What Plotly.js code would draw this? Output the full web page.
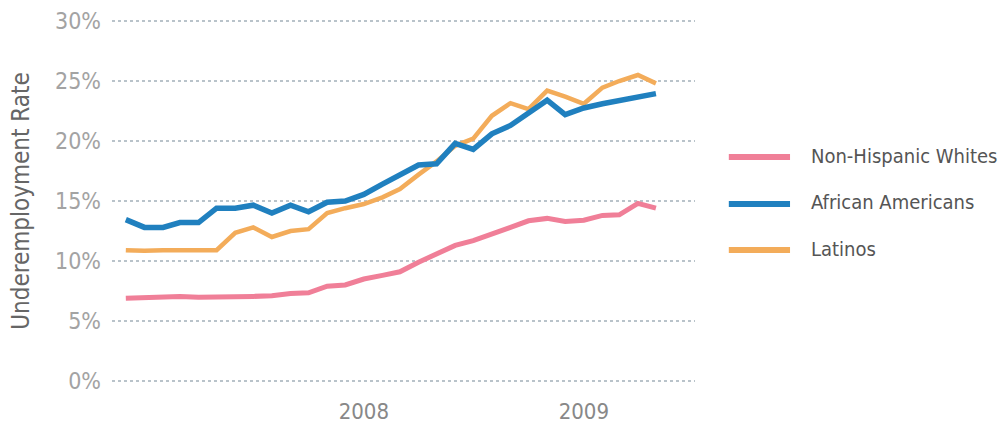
<!DOCTYPE html>
<html>
<head>
<meta charset="utf-8">
<script src="https://cdn.plot.ly/plotly-3.0.1.min.js"></script>
<style>
  html, body { margin: 0; padding: 0; background: #fff; }
  #chart { width: 998px; height: 432px; }
</style>
</head>
<body>
<div id="chart"></div>
<script>
// Monthly observations, Dec 2006 - May 2009
const months = [
  '2006-12-01','2007-01-01','2007-02-01','2007-03-01','2007-04-01','2007-05-01',
  '2007-06-01','2007-07-01','2007-08-01','2007-09-01','2007-10-01','2007-11-01',
  '2007-12-01','2008-01-01','2008-02-01','2008-03-01','2008-04-01','2008-05-01',
  '2008-06-01','2008-07-01','2008-08-01','2008-09-01','2008-10-01','2008-11-01',
  '2008-12-01','2009-01-01','2009-02-01','2009-03-01','2009-04-01','2009-05-01'
];
const seriesNames = ['Non-Hispanic Whites', 'African Americans', 'Latinos'];
const whites = [6.9, 6.95, 7.1, 7.05, 6.97, 6.97, 7.03, 7.05, 7.1, 7.3, 7.35, 7.9,
  8.0, 8.5, 8.8, 9.1, 9.9, 10.6, 11.3, 11.7, 12.3, 12.8, 13.35, 13.55,
  13.3, 13.4, 13.8, 13.85, 14.8, 14.4];
const africanAmericans = [13.45, 12.8, 12.8, 13.2, 13.2, 14.4, 14.4, 14.65, 14.0, 14.65, 14.1, 14.9,
  15.0, 15.55, 16.4, 17.2, 18.0, 18.1, 19.8, 19.3, 20.6, 21.3, 22.3, 23.4,
  22.2, 22.75, 23.1, 23.35, 23.6, 23.95];
const latinos = [10.9, 10.85, 10.9, 10.9, 10.9, 10.9, 12.35, 12.8, 12.0, 12.5, 12.65, 14.0,
  14.4, 14.75, 15.3, 16.0, 17.2, 18.3, 19.6, 20.2, 22.1, 23.15, 22.65, 24.2,
  23.7, 23.1, 24.45, 25.0, 25.5, 24.8];
const yTickVals = [0, 5, 10, 15, 20, 25, 30];
const yTickText = ['0%', '5%', '10%', '15%', '20%', '25%', '30%'];
const xTickVals = ['2008-01-01', '2009-01-01'];
const xTickText = ['2008', '2009'];

const colors = ['#f07f98', '#2080bf', '#f3ac5a'];
const widths = [5, 5.5, 4.5];
const values = [whites, africanAmericans, latinos];

const traces = values.map((v, k) => ({
  type: 'scatter',
  mode: 'lines',
  x: months,
  y: v,
  name: seriesNames[k],
  showlegend: false,
  line: { color: colors[k], width: widths[k], shape: 'linear' },
  hoverinfo: 'skip'
}));
// whites, latinos, then African Americans drawn on top
const drawOrder = [traces[0], traces[2], traces[1]];

// Custom legend (paper coordinates)
const legendY = [0.618, 0.492, 0.368];
const shapes = seriesNames.map((n, k) => ({
  type: 'line', xref: 'paper', yref: 'paper',
  x0: 1.058, x1: 1.163, y0: legendY[k], y1: legendY[k],
  line: { color: colors[k], width: 6 }
}));
const annotations = seriesNames.map((n, k) => ({
  xref: 'paper', yref: 'paper',
  x: 1.195, y: legendY[k] + 0.004,
  xanchor: 'left', yanchor: 'middle',
  text: n, showarrow: false,
  font: { size: 20, color: '#555' }
}));

const layout = {
  width: 998,
  height: 432,
  margin: { l: 112, r: 303, t: 15, b: 45 },
  paper_bgcolor: '#ffffff',
  plot_bgcolor: '#ffffff',
  font: { family: '"DejaVu Sans Condensed", "Liberation Sans Narrow", sans-serif', color: '#555' },
  showlegend: false,
  shapes: shapes,
  annotations: annotations,
  xaxis: {
    type: 'date',
    range: ['2006-11-08', '2009-07-05'],
    tickvals: xTickVals,
    ticktext: xTickText,
    showgrid: false,
    zeroline: false,
    showline: false,
    ticks: '',
    tickfont: { size: 22, color: '#888' },
    ticklabelstandoff: 9
  },
  yaxis: {
    range: [-0.5, 30.5],
    tickvals: yTickVals,
    ticktext: yTickText,
    showgrid: true,
    gridcolor: '#b9c3ca',
    gridwidth: 1.5,
    griddash: 'dot',
    zeroline: false,
    showline: false,
    ticks: '',
    ticklabelstandoff: 10,
    tickfont: { size: 23, color: '#a3a3a3' },
    title: { text: 'Underemployment Rate', font: { size: 24, color: '#666' }, standoff: 18 }
  }
};

Plotly.newPlot('chart', drawOrder, layout, { displayModeBar: false, staticPlot: true });
</script>
</body>
</html>
